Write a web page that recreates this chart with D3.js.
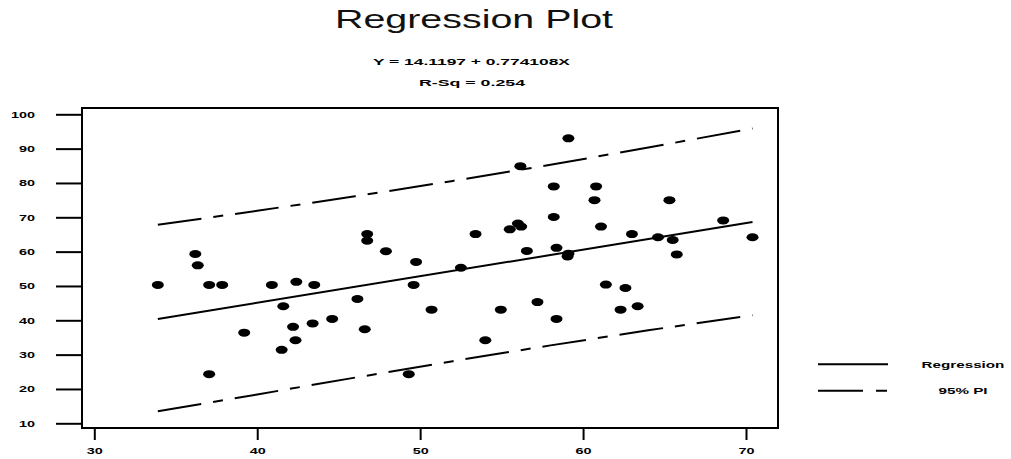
<!DOCTYPE html>
<html>
<head>
<meta charset="utf-8">
<script src="https://cdn.jsdelivr.net/npm/d3@7"></script>
<style>
  html, body { margin: 0; padding: 0; background: #fff; }
  svg { display: block; }
  text { font-family: "Liberation Sans", Arial, sans-serif; fill: #000; }
</style>
</head>
<body>
<svg id="chart" width="1011" height="459"></svg>
<script>
// ---- data ----
const xValues = [33.9, 36.2, 36.35, 37.05, 37.85, 37.05, 39.2, 40.9, 41.5, 41.6,
  42.2, 42.35, 42.4, 43.4, 43.5, 44.6, 46.15, 46.6, 46.75, 46.75,
  47.9, 49.3, 49.6, 49.75, 50.7, 52.5, 53.4, 54.0, 54.95, 55.5,
  56.0, 56.2, 56.15, 56.55, 57.2, 58.2, 58.2, 58.37, 58.37, 59.05,
  59.1, 59.1, 60.7, 60.8, 61.1, 61.4, 62.3, 62.6, 63.0, 63.35,
  64.6, 65.3, 65.5, 65.75, 68.6, 70.4];
const yValues = [50.3, 59.3, 56.0, 50.3, 50.3, 24.3, 36.4, 50.3, 31.4, 44.1,
  38.1, 34.2, 51.2, 39.1, 50.3, 40.4, 46.2, 37.4, 65.1, 63.2,
  60.1, 24.3, 50.3, 57.0, 43.1, 55.3, 65.1, 34.2, 43.1, 66.5,
  68.2, 67.3, 84.9, 60.2, 45.3, 79.0, 70.1, 61.1, 40.4, 58.6,
  59.4, 93.0, 75.0, 79.0, 67.3, 50.4, 43.1, 49.4, 65.1, 44.1,
  64.2, 75.0, 63.4, 59.2, 69.1, 64.2];

const regX = [33.9, 70.4];
const regY = [40.4, 68.6];

const piX = [33.9, 40, 46, 52, 58, 64, 70.4];
const piUpper = [67.8, 71.9, 76.1, 80.6, 85.3, 90.3, 95.9];
const piLower = [13.5, 18.4, 23.3, 28.1, 32.7, 37.1, 41.5];

const xTicks = [30, 40, 50, 60, 70];
const yTicks = [10, 20, 30, 40, 50, 60, 70, 80, 90, 100];

const titleText = "Regression Plot";
const eqText = "Y = 14.1197 + 0.774108X";
const rsqText = "R-Sq = 0.254";
const legendLabels = ["Regression", "95% PI"];

// ---- drawing ----
const svg = d3.select("#chart");
const STRETCH = 1.6;
const frame = { left: 82, top: 108, right: 778, bottom: 428 };

const x = d3.scaleLinear().domain([30, 70]).range([94.3, 746]);
const y = d3.scaleLinear().domain([10, 100]).range([423.3, 114.3]);

function stretchText(sel, factor) {
  sel.each(function () {
    const w = this.getComputedTextLength();
    d3.select(this).attr("textLength", w * factor).attr("lengthAdjust", "spacingAndGlyphs");
  });
}

// titles
svg.append("text").attr("x", 474).attr("y", 28).attr("text-anchor", "middle")
  .style("font-size", "25px").style("fill", "#111").text(titleText)
  .attr("textLength", 278).attr("lengthAdjust", "spacingAndGlyphs");
svg.append("text").attr("x", 471.5).attr("y", 65).attr("text-anchor", "middle")
  .style("font-size", "9.5px").style("font-weight", "bold").text(eqText)
  .attr("textLength", 197).attr("lengthAdjust", "spacingAndGlyphs");
svg.append("text").attr("x", 472).attr("y", 86).attr("text-anchor", "middle")
  .style("font-size", "9.5px").style("font-weight", "bold").text(rsqText)
  .attr("textLength", 106).attr("lengthAdjust", "spacingAndGlyphs");

// frame
svg.append("rect")
  .attr("x", frame.left).attr("y", frame.top)
  .attr("width", frame.right - frame.left).attr("height", frame.bottom - frame.top)
  .attr("fill", "none").attr("stroke", "#000").attr("stroke-width", 2);

// axes
const yAxis = svg.append("g").attr("transform", `translate(${frame.left},0)`)
  .call(d3.axisLeft(y).tickValues(yTicks).tickSize(26).tickPadding(21));
const xAxis = svg.append("g").attr("transform", `translate(0,${frame.bottom})`)
  .call(d3.axisBottom(x).tickValues(xTicks).tickSize(12).tickPadding(8));
[yAxis, xAxis].forEach(a => {
  a.select(".domain").remove();
  a.selectAll(".tick line").attr("stroke", "#000").attr("stroke-width", 2);
  a.selectAll(".tick text").style("font-size", "9px").style("font-weight", "bold")
    .style("font-family", "'Liberation Sans', Arial, sans-serif").attr("fill", "#000");
  stretchText(a.selectAll(".tick text"), STRETCH);
});

// lines
const line = d3.line().x(d => x(d[0])).y(d => y(d[1]));
svg.append("path").datum(regX.map((v, i) => [v, regY[i]]))
  .attr("d", line).attr("fill", "none").attr("stroke", "#000").attr("stroke-width", 2);
[piUpper, piLower].forEach(arr => {
  svg.append("path").datum(piX.map((v, i) => [v, arr[i]]))
    .attr("d", line).attr("fill", "none").attr("stroke", "#000").attr("stroke-width", 2)
    .attr("stroke-dasharray", "44,12,10,12");
});

// points
svg.append("g").selectAll("ellipse").data(xValues.map((v, i) => [v, yValues[i]]))
  .join("ellipse")
  .attr("cx", d => x(d[0])).attr("cy", d => y(d[1]))
  .attr("rx", 6).attr("ry", 4).attr("fill", "#000");

// legend
const legY = [364.3, 390.7];
const legDash = [null, "45,13,11,20"];
legendLabels.forEach((lab, i) => {
  svg.append("line").attr("x1", 818).attr("x2", 888)
    .attr("y1", legY[i]).attr("y2", legY[i])
    .attr("stroke", "#000").attr("stroke-width", 2)
    .attr("stroke-dasharray", legDash[i]);
  const t = svg.append("text").attr("x", 963).attr("y", legY[i] + 3.5)
    .attr("text-anchor", "middle").style("font-size", "9.5px").style("font-weight", "bold")
    .text(lab);
  stretchText(t, STRETCH);
});
</script>
</body>
</html>
